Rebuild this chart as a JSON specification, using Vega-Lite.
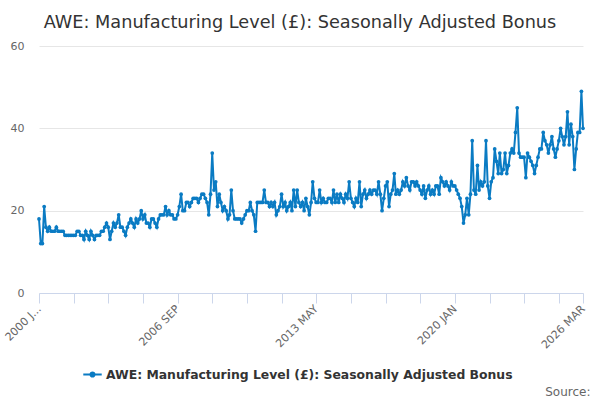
{
  "$schema": "https://vega.github.io/schema/vega-lite/v6.json",
  "autosize": "none",
  "width": 544,
  "height": 247,
  "padding": {"left": 39, "top": 46, "right": 17, "bottom": 107},
  "title": {
    "text": "AWE: Manufacturing Level (£): Seasonally Adjusted Bonus",
    "frame": "group",
    "anchor": "middle",
    "dx": -11,
    "dy": 26,
    "offset": 20,
    "baseline": "alphabetic",
    "font": "DejaVu Sans",
    "fontSize": 17.7,
    "fontWeight": "normal",
    "color": "#333333"
  },
  "config": {
    "view": {"stroke": null},
    "font": "DejaVu Sans"
  },
  "data": {
    "values": [
      {"d":"2000-01-01","v":18},{"d":"2000-02-01","v":12},{"d":"2000-03-01","v":12},{"d":"2000-04-01","v":21},{"d":"2000-05-01","v":16},{"d":"2000-06-01","v":15},{"d":"2000-07-01","v":16},{"d":"2000-08-01","v":15},{"d":"2000-09-01","v":15},{"d":"2000-10-01","v":15},{"d":"2000-11-01","v":16},{"d":"2000-12-01","v":15},
      {"d":"2001-01-01","v":15},{"d":"2001-02-01","v":15},{"d":"2001-03-01","v":15},{"d":"2001-04-01","v":14},{"d":"2001-05-01","v":14},{"d":"2001-06-01","v":14},{"d":"2001-07-01","v":14},{"d":"2001-08-01","v":14},{"d":"2001-09-01","v":14},{"d":"2001-10-01","v":14},{"d":"2001-11-01","v":15},{"d":"2001-12-01","v":15},
      {"d":"2002-01-01","v":14},{"d":"2002-02-01","v":14},{"d":"2002-03-01","v":13},{"d":"2002-04-01","v":15},{"d":"2002-05-01","v":14},{"d":"2002-06-01","v":13},{"d":"2002-07-01","v":15},{"d":"2002-08-01","v":14},{"d":"2002-09-01","v":13},{"d":"2002-10-01","v":14},{"d":"2002-11-01","v":14},{"d":"2002-12-01","v":14},
      {"d":"2003-01-01","v":15},{"d":"2003-02-01","v":15},{"d":"2003-03-01","v":16},{"d":"2003-04-01","v":17},{"d":"2003-05-01","v":16},{"d":"2003-06-01","v":13},{"d":"2003-07-01","v":15},{"d":"2003-08-01","v":17},{"d":"2003-09-01","v":16},{"d":"2003-10-01","v":17},{"d":"2003-11-01","v":19},{"d":"2003-12-01","v":16},
      {"d":"2004-01-01","v":16},{"d":"2004-02-01","v":15},{"d":"2004-03-01","v":14},{"d":"2004-04-01","v":16},{"d":"2004-05-01","v":17},{"d":"2004-06-01","v":18},{"d":"2004-07-01","v":17},{"d":"2004-08-01","v":16},{"d":"2004-09-01","v":18},{"d":"2004-10-01","v":17},{"d":"2004-11-01","v":18},{"d":"2004-12-01","v":20},
      {"d":"2005-01-01","v":18},{"d":"2005-02-01","v":19},{"d":"2005-03-01","v":17},{"d":"2005-04-01","v":17},{"d":"2005-05-01","v":16},{"d":"2005-06-01","v":18},{"d":"2005-07-01","v":18},{"d":"2005-08-01","v":17},{"d":"2005-09-01","v":16},{"d":"2005-10-01","v":18},{"d":"2005-11-01","v":19},{"d":"2005-12-01","v":19},
      {"d":"2006-01-01","v":19},{"d":"2006-02-01","v":21},{"d":"2006-03-01","v":19},{"d":"2006-04-01","v":20},{"d":"2006-05-01","v":19},{"d":"2006-06-01","v":19},{"d":"2006-07-01","v":18},{"d":"2006-08-01","v":18},{"d":"2006-09-01","v":19},{"d":"2006-10-01","v":21},{"d":"2006-11-01","v":24},{"d":"2006-12-01","v":20},
      {"d":"2007-01-01","v":20},{"d":"2007-02-01","v":22},{"d":"2007-03-01","v":22},{"d":"2007-04-01","v":21},{"d":"2007-05-01","v":22},{"d":"2007-06-01","v":23},{"d":"2007-07-01","v":23},{"d":"2007-08-01","v":23},{"d":"2007-09-01","v":22},{"d":"2007-10-01","v":23},{"d":"2007-11-01","v":24},{"d":"2007-12-01","v":24},
      {"d":"2008-01-01","v":23},{"d":"2008-02-01","v":22},{"d":"2008-03-01","v":19},{"d":"2008-04-01","v":24},{"d":"2008-05-01","v":34},{"d":"2008-06-01","v":25},{"d":"2008-07-01","v":27},{"d":"2008-08-01","v":21},{"d":"2008-09-01","v":24},{"d":"2008-10-01","v":22},{"d":"2008-11-01","v":20},{"d":"2008-12-01","v":21},
      {"d":"2009-01-01","v":20},{"d":"2009-02-01","v":18},{"d":"2009-03-01","v":19},{"d":"2009-04-01","v":25},{"d":"2009-05-01","v":20},{"d":"2009-06-01","v":18},{"d":"2009-07-01","v":18},{"d":"2009-08-01","v":18},{"d":"2009-09-01","v":18},{"d":"2009-10-01","v":17},{"d":"2009-11-01","v":18},{"d":"2009-12-01","v":19},
      {"d":"2010-01-01","v":20},{"d":"2010-02-01","v":20},{"d":"2010-03-01","v":22},{"d":"2010-04-01","v":20},{"d":"2010-05-01","v":19},{"d":"2010-06-01","v":15},{"d":"2010-07-01","v":22},{"d":"2010-08-01","v":22},{"d":"2010-09-01","v":22},{"d":"2010-10-01","v":22},{"d":"2010-11-01","v":25},{"d":"2010-12-01","v":22},
      {"d":"2011-01-01","v":22},{"d":"2011-02-01","v":21},{"d":"2011-03-01","v":22},{"d":"2011-04-01","v":21},{"d":"2011-05-01","v":22},{"d":"2011-06-01","v":19},{"d":"2011-07-01","v":20},{"d":"2011-08-01","v":21},{"d":"2011-09-01","v":24},{"d":"2011-10-01","v":21},{"d":"2011-11-01","v":22},{"d":"2011-12-01","v":20},
      {"d":"2012-01-01","v":21},{"d":"2012-02-01","v":22},{"d":"2012-03-01","v":20},{"d":"2012-04-01","v":25},{"d":"2012-05-01","v":21},{"d":"2012-06-01","v":25},{"d":"2012-07-01","v":22},{"d":"2012-08-01","v":21},{"d":"2012-09-01","v":22},{"d":"2012-10-01","v":20},{"d":"2012-11-01","v":23},{"d":"2012-12-01","v":21},
      {"d":"2013-01-01","v":19},{"d":"2013-02-01","v":22},{"d":"2013-03-01","v":27},{"d":"2013-04-01","v":23},{"d":"2013-05-01","v":22},{"d":"2013-06-01","v":22},{"d":"2013-07-01","v":25},{"d":"2013-08-01","v":22},{"d":"2013-09-01","v":23},{"d":"2013-10-01","v":22},{"d":"2013-11-01","v":22},{"d":"2013-12-01","v":23},
      {"d":"2014-01-01","v":23},{"d":"2014-02-01","v":22},{"d":"2014-03-01","v":25},{"d":"2014-04-01","v":22},{"d":"2014-05-01","v":24},{"d":"2014-06-01","v":22},{"d":"2014-07-01","v":24},{"d":"2014-08-01","v":23},{"d":"2014-09-01","v":22},{"d":"2014-10-01","v":24},{"d":"2014-11-01","v":23},{"d":"2014-12-01","v":27},
      {"d":"2015-01-01","v":23},{"d":"2015-02-01","v":22},{"d":"2015-03-01","v":21},{"d":"2015-04-01","v":23},{"d":"2015-05-01","v":22},{"d":"2015-06-01","v":27},{"d":"2015-07-01","v":21},{"d":"2015-08-01","v":24},{"d":"2015-09-01","v":25},{"d":"2015-10-01","v":23},{"d":"2015-11-01","v":24},{"d":"2015-12-01","v":25},
      {"d":"2016-01-01","v":24},{"d":"2016-02-01","v":25},{"d":"2016-03-01","v":25},{"d":"2016-04-01","v":24},{"d":"2016-05-01","v":27},{"d":"2016-06-01","v":24},{"d":"2016-07-01","v":20},{"d":"2016-08-01","v":23},{"d":"2016-09-01","v":26},{"d":"2016-10-01","v":27},{"d":"2016-11-01","v":21},{"d":"2016-12-01","v":24},
      {"d":"2017-01-01","v":25},{"d":"2017-02-01","v":29},{"d":"2017-03-01","v":24},{"d":"2017-04-01","v":25},{"d":"2017-05-01","v":24},{"d":"2017-06-01","v":25},{"d":"2017-07-01","v":27},{"d":"2017-08-01","v":26},{"d":"2017-09-01","v":28},{"d":"2017-10-01","v":26},{"d":"2017-11-01","v":25},{"d":"2017-12-01","v":27},
      {"d":"2018-01-01","v":27},{"d":"2018-02-01","v":26},{"d":"2018-03-01","v":27},{"d":"2018-04-01","v":26},{"d":"2018-05-01","v":25},{"d":"2018-06-01","v":24},{"d":"2018-07-01","v":26},{"d":"2018-08-01","v":23},{"d":"2018-09-01","v":25},{"d":"2018-10-01","v":26},{"d":"2018-11-01","v":24},{"d":"2018-12-01","v":25},
      {"d":"2019-01-01","v":24},{"d":"2019-02-01","v":26},{"d":"2019-03-01","v":26},{"d":"2019-04-01","v":24},{"d":"2019-05-01","v":28},{"d":"2019-06-01","v":27},{"d":"2019-07-01","v":26},{"d":"2019-08-01","v":27},{"d":"2019-09-01","v":26},{"d":"2019-10-01","v":25},{"d":"2019-11-01","v":27},{"d":"2019-12-01","v":26},
      {"d":"2020-01-01","v":26},{"d":"2020-02-01","v":25},{"d":"2020-03-01","v":24},{"d":"2020-04-01","v":23},{"d":"2020-05-01","v":21},{"d":"2020-06-01","v":17},{"d":"2020-07-01","v":19},{"d":"2020-08-01","v":23},{"d":"2020-09-01","v":19},{"d":"2020-10-01","v":24},{"d":"2020-11-01","v":37},{"d":"2020-12-01","v":25},
      {"d":"2021-01-01","v":24},{"d":"2021-02-01","v":31},{"d":"2021-03-01","v":25},{"d":"2021-04-01","v":27},{"d":"2021-05-01","v":26},{"d":"2021-06-01","v":27},{"d":"2021-07-01","v":37},{"d":"2021-08-01","v":26},{"d":"2021-09-01","v":23},{"d":"2021-10-01","v":27},{"d":"2021-11-01","v":28},{"d":"2021-12-01","v":35},
      {"d":"2022-01-01","v":32},{"d":"2022-02-01","v":29},{"d":"2022-03-01","v":34},{"d":"2022-04-01","v":29},{"d":"2022-05-01","v":30},{"d":"2022-06-01","v":34},{"d":"2022-07-01","v":29},{"d":"2022-08-01","v":31},{"d":"2022-09-01","v":34},{"d":"2022-10-01","v":35},{"d":"2022-11-01","v":34},{"d":"2022-12-01","v":39},
      {"d":"2023-01-01","v":45},{"d":"2023-02-01","v":34},{"d":"2023-03-01","v":33},{"d":"2023-04-01","v":33},{"d":"2023-05-01","v":33},{"d":"2023-06-01","v":28},{"d":"2023-07-01","v":34},{"d":"2023-08-01","v":33},{"d":"2023-09-01","v":32},{"d":"2023-10-01","v":31},{"d":"2023-11-01","v":29},{"d":"2023-12-01","v":31},
      {"d":"2024-01-01","v":33},{"d":"2024-02-01","v":35},{"d":"2024-03-01","v":35},{"d":"2024-04-01","v":39},{"d":"2024-05-01","v":37},{"d":"2024-06-01","v":36},{"d":"2024-07-01","v":34},{"d":"2024-08-01","v":36},{"d":"2024-09-01","v":38},{"d":"2024-10-01","v":35},{"d":"2024-11-01","v":33},{"d":"2024-12-01","v":35},
      {"d":"2025-01-01","v":37},{"d":"2025-02-01","v":40},{"d":"2025-03-01","v":38},{"d":"2025-04-01","v":36},{"d":"2025-05-01","v":38},{"d":"2025-06-01","v":44},{"d":"2025-07-01","v":36},{"d":"2025-08-01","v":41},{"d":"2025-09-01","v":38},{"d":"2025-10-01","v":30},{"d":"2025-11-01","v":35},{"d":"2025-12-01","v":39},
      {"d":"2026-01-01","v":39},{"d":"2026-02-01","v":49},{"d":"2026-03-01","v":40}
    ]
  },
  "mark": {
    "type": "line",
    "strokeWidth": 2,
    "point": {"filled": true, "size": 14}
  },
  "encoding": {
    "x": {
      "field": "d",
      "type": "temporal",
      "scale": {
        "type": "utc",
        "domain": [
          {"year": 2000, "month": 1, "date": 1, "utc": true},
          {"year": 2026, "month": 3, "date": 1, "utc": true}
        ],
        "nice": false
      },
      "axis": {
        "values": [
          {"year": 2000, "month": 1, "date": 1, "utc": true},
          {"year": 2001, "month": 9, "date": 1, "utc": true},
          {"year": 2003, "month": 5, "date": 1, "utc": true},
          {"year": 2005, "month": 1, "date": 1, "utc": true},
          {"year": 2006, "month": 9, "date": 1, "utc": true},
          {"year": 2008, "month": 5, "date": 1, "utc": true},
          {"year": 2010, "month": 1, "date": 1, "utc": true},
          {"year": 2011, "month": 9, "date": 1, "utc": true},
          {"year": 2013, "month": 5, "date": 1, "utc": true},
          {"year": 2015, "month": 1, "date": 1, "utc": true},
          {"year": 2016, "month": 9, "date": 1, "utc": true},
          {"year": 2018, "month": 5, "date": 1, "utc": true},
          {"year": 2020, "month": 1, "date": 1, "utc": true},
          {"year": 2021, "month": 9, "date": 1, "utc": true},
          {"year": 2023, "month": 5, "date": 1, "utc": true},
          {"year": 2025, "month": 1, "date": 1, "utc": true},
          {"year": 2026, "month": 3, "date": 1, "utc": true}
        ],
        "labelExpr": "(utcyear(datum.value) * 12 + utcmonth(datum.value) - 24000) == 0 ? '2000 J...' : ((utcyear(datum.value) * 12 + utcmonth(datum.value) - 24000) % 80 == 0 || (utcyear(datum.value) * 12 + utcmonth(datum.value) - 24000) == 314) ? upper(utcFormat(datum.value, '%Y %b')) : ''",
        "labelAngle": -45,
        "labelAlign": "right",
        "labelBaseline": "middle",
        "labelPadding": 4,
        "labelFontSize": 11,
        "labelColor": "#666666",
        "labelFlush": false,
        "labelOverlap": false,
        "labelBound": false,
        "grid": false,
        "domainColor": "#ccd6eb",
        "tickColor": "#ccd6eb",
        "tickSize": 10,
        "title": "Source:",
        "titleAnchor": "end",
        "titleAlign": "right",
        "titleBaseline": "alphabetic",
        "titleX": 551,
        "titleY": 102,
        "titleFontSize": 12,
        "titleFontWeight": "normal",
        "titleColor": "#666666"
      }
    },
    "y": {
      "field": "v",
      "type": "quantitative",
      "scale": {"domain": [0, 60], "nice": false},
      "axis": {
        "values": [0, 20, 40, 60],
        "title": null,
        "domain": false,
        "ticks": false,
        "labelPadding": 15,
        "labelFontSize": 11,
        "labelColor": "#666666",
        "gridColor": "#e6e6e6"
      }
    },
    "color": {
      "datum": "AWE: Manufacturing Level (£): Seasonally Adjusted Bonus",
      "scale": {"range": ["#0a7bc3"]},
      "legend": {
        "title": null,
        "orient": "none",
        "legendX": 43,
        "legendY": 318,
        "symbolType": "M-1,0H1M-0.22,0A0.22,0.22,0,1,1,0.22,0A0.22,0.22,0,1,1,-0.22,0Z",
        "symbolSize": 340,
        "symbolStrokeWidth": 2,
        "symbolFillColor": "#0a7bc3",
        "symbolStrokeColor": "#0a7bc3",
        "labelFontSize": 12.4,
        "labelFontWeight": "bold",
        "labelColor": "#333333",
        "labelOffset": 3,
        "labelLimit": 600
      }
    }
  }
}
